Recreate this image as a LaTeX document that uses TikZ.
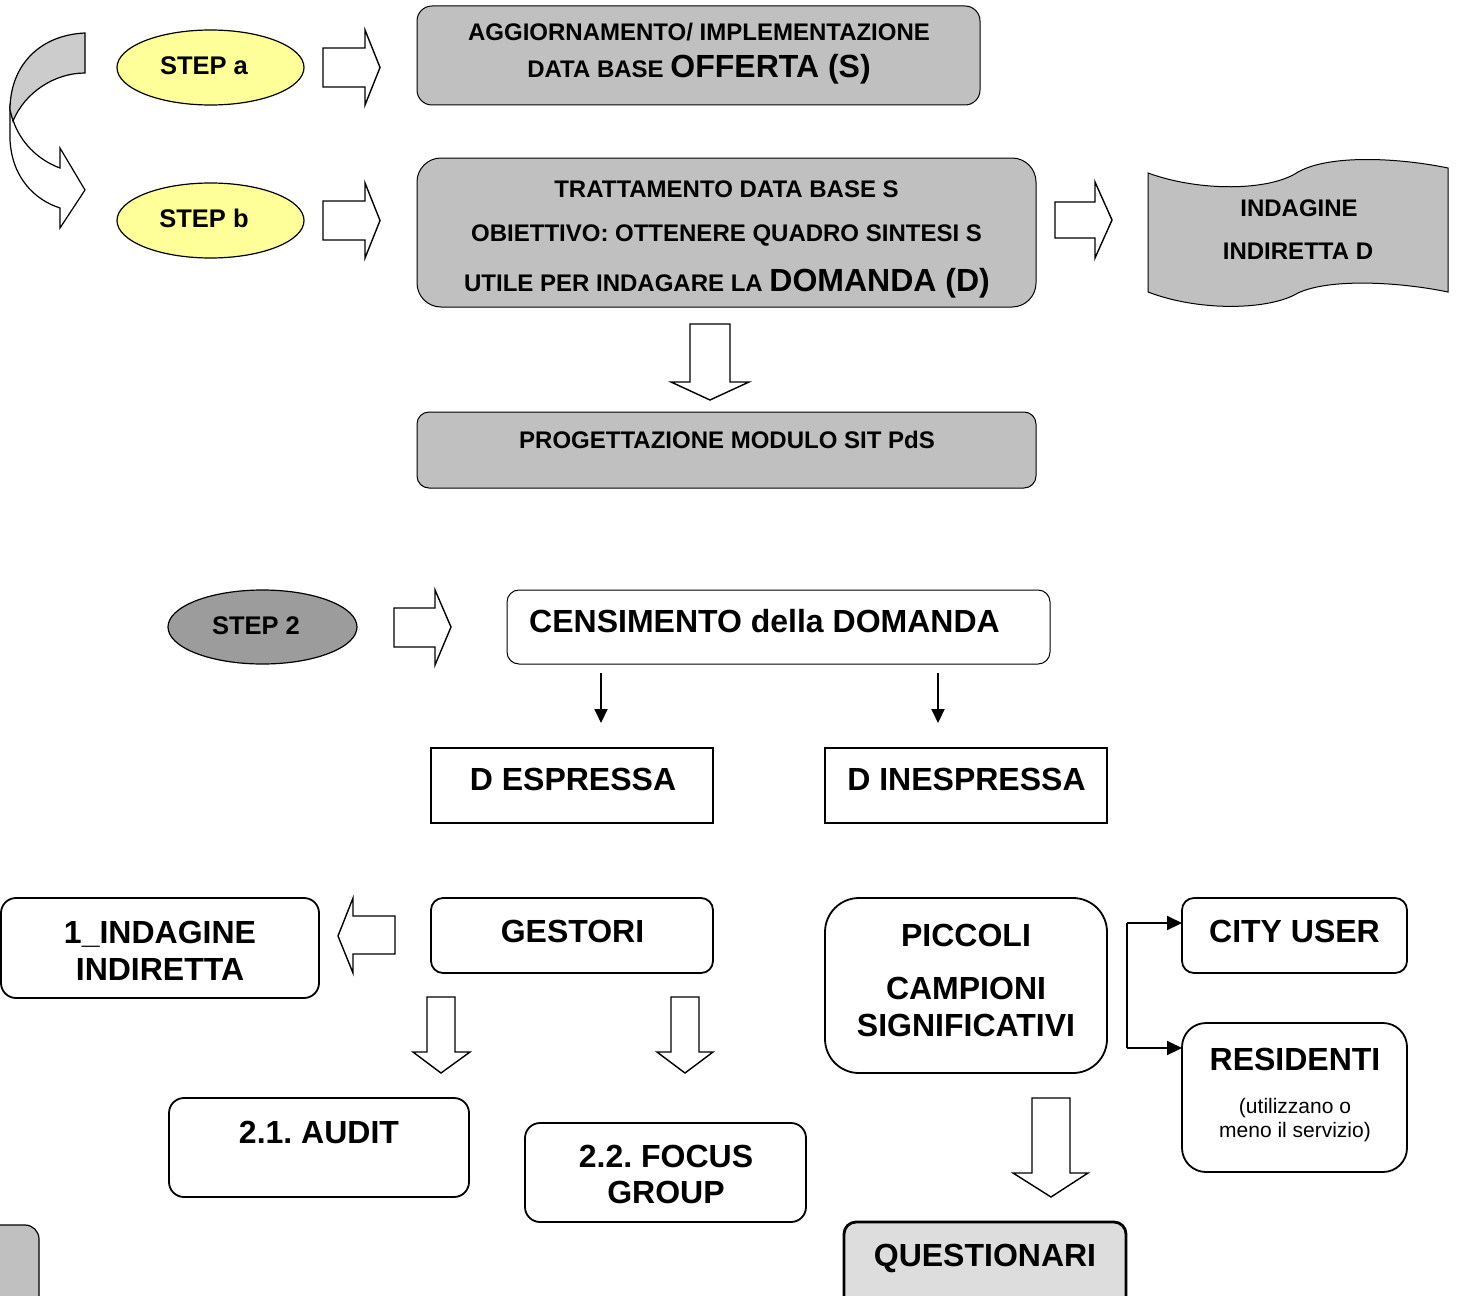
\documentclass[tikz,border=0pt]{standalone}
\usepackage{fontspec}
\setmainfont{Liberation Sans}
\usetikzlibrary{fit,arrows.meta,shapes.geometric}
\definecolor{boxgrey}{HTML}{C0C0C0}
\definecolor{curvegrey}{HTML}{CCCCCC}
\definecolor{stepyellow}{HTML}{FFFF99}
\definecolor{steptwo}{HTML}{9C9C9C}
\definecolor{questgrey}{HTML}{DDDDDD}
\frenchspacing
\begin{document}
\frenchspacing
\begin{tikzpicture}[x=0.5pt,y=-0.5pt,
  greybox/.style={draw, fill=boxgrey, line width=0.5pt, inner sep=0pt, outer sep=0pt},
  whitebox/.style={draw, fill=white, line width=0.9pt, inner sep=0pt, outer sep=0pt},
  sharpbox/.style={draw, fill=white, line width=1.4pt, inner sep=0pt, outer sep=0pt},
  stepell/.style={draw, ellipse, line width=0.6pt, inner sep=0pt, minimum width=93.5pt, minimum height=37.5pt},
  blockarrow/.style={draw, fill=white, line width=0.7pt, line join=miter},
  thinarrow/.style={line width=1pt, -{Triangle[length=7pt,width=6.5pt]}},
  elbowarrow/.style={line width=1pt, -{Triangle[length=7.5pt,width=7pt]}},
  txt/.style={anchor=base, inner sep=0pt, font=\frenchspacing\bfseries\fontsize{12}{14}\selectfont},
  bigtxt/.style={anchor=base, inner sep=0pt, font=\frenchspacing\bfseries\fontsize{16}{18}\selectfont},
  steptxt/.style={anchor=base, inner sep=0pt, font=\bfseries\fontsize{12.75}{15}\selectfont},
  smalltxt/.style={anchor=base, inner sep=0pt, font=\fontsize{10.5}{12}\selectfont}]
\useasboundingbox (0,0) rectangle (1460,1295);

% ---------- curved arrow (top left) ----------
\draw[fill=white, line width=0.6pt, line join=miter]
  (10,108) -- (10,140) .. controls (12,178) and (35,200) .. (60,208)
  -- (60,228) -- (85,190) -- (60,148) -- (60,168)
  .. controls (38,160) and (20,142) .. (13,120) -- cycle;
\draw[fill=curvegrey, line width=0.6pt]
  (85,33) .. controls (40,35) and (10,65) .. (10,110) -- (13,121)
  .. controls (25,92) and (55,73) .. (85,73) -- cycle;

% ---------- STEP ellipses ----------
\node[stepell, fill=stepyellow] (stepa) at (210.5,67.5) {};
\node[steptxt] (stepatxt) at (204,75) {STEP a};
\node[stepell, fill=stepyellow] (stepb) at (210.5,220.5) {};
\node[steptxt] (stepbtxt) at (204,227.5) {STEP b};

% ---------- block arrows (top) ----------
\draw[blockarrow] (323,48) -- (365,48) -- (365,30) -- (380,67.5) -- (365,105) -- (365,87) -- (323,87) -- cycle;
\draw[blockarrow] (323,201) -- (365,201) -- (365,183) -- (380,220.5) -- (365,258) -- (365,240) -- (323,240) -- cycle;
\draw[blockarrow] (1055,202) -- (1095,202) -- (1095,182) -- (1112,220) -- (1095,258) -- (1095,238) -- (1055,238) -- cycle;
\draw[blockarrow] (690,324) -- (730,324) -- (730,382) -- (749,382) -- (710,400) -- (671,382) -- (690,382) -- cycle;

% ---------- top grey boxes ----------
\node[greybox, rounded corners=7.5pt, fit={(417,6) (980,105)}] (offerta) {};
\node[txt] (offl1) at (699,41) {AGGIORNAMENTO/ IMPLEMENTAZIONE};
\node[txt] (offl2) at (699,78) {DATA BASE {\fontsize{16}{18}\selectfont OFFERTA (S)}};

\node[greybox, rounded corners=12pt, fit={(417,158) (1036,307)}] (tratt) {};
\node[txt] (tratl1) at (726.5,197) {TRATTAMENTO DATA BASE S};
\node[txt] (tratl2) at (726.5,241) {OBIETTIVO: OTTENERE QUADRO SINTESI S};
\node[txt] (tratl3) at (727,291.5) {UTILE PER INDAGARE LA {\fontsize{16}{18}\selectfont DOMANDA (D)}};

\node[greybox, rounded corners=6pt, fit={(417,412) (1036,488)}] (prog) {};
\node[txt] (progtxt) at (727,448.6) {PROGETTAZIONE MODULO SIT PdS};

% ---------- wave shape ----------
\draw[fill=boxgrey, line width=0.5pt]
  (1148,173) .. controls (1200,192) and (1270,191) .. (1298,172)
  .. controls (1330,154) and (1400,158) .. (1448,168)
  -- (1448,292)
  .. controls (1400,282) and (1330,278) .. (1298,293)
  .. controls (1270,310) and (1200,312) .. (1148,292) -- cycle;
\node[txt] (indl1) at (1299,216.6) {INDAGINE};
\node[txt] (indl2) at (1298,259.6) {INDIRETTA D};

% ---------- STEP 2 ----------
\node[stepell, fill=steptwo, minimum width=94.5pt, minimum height=37pt] (step2) at (262.5,627) {};
\node[steptxt] (step2txt) at (256,634) {STEP 2};
\draw[blockarrow] (394,608) -- (435,608) -- (435,590) -- (451,627) -- (435,665) -- (435,647) -- (394,647) -- cycle;

\node[draw, fill=white, line width=0.5pt, inner sep=0pt, outer sep=0pt, rounded corners=6pt, fit={(507,590) (1050,664)}] (cens) {};
\node[bigtxt] (censtxt) at (764.5,632.5) {CENSIMENTO della DOMANDA};

\coordinate (c1s) at (601,673);
\coordinate (c1e) at (601,723);
\coordinate (c2s) at (938,673);
\coordinate (c2e) at (938,723);
\draw[thinarrow] (c1s) -- (c1e);
\draw[thinarrow] (c2s) -- (c2e);

\node[sharpbox, fit={(431,748) (713,823)}] (desp) {};
\node[bigtxt] (desptxt) at (573,790.5) {D ESPRESSA};
\node[sharpbox, fit={(825,748) (1107,823)}] (dinesp) {};
\node[bigtxt] (dinesptxt) at (966.5,790.5) {D INESPRESSA};

% ---------- lower left ----------
\node[whitebox, rounded corners=7.5pt, fit={(1,898) (319,998)}] (indir) {};
\node[bigtxt] (indirl1) at (160,943.5) {1\_INDAGINE};
\node[bigtxt] (indirl2) at (160,980.5) {INDIRETTA};
\draw[blockarrow] (395,916) -- (353,916) -- (353,898) -- (338,936) -- (353,973) -- (353,954) -- (395,954) -- cycle;

\node[whitebox, rounded corners=6pt, fit={(431,898) (713,973)}] (gest) {};
\node[bigtxt] (gesttxt) at (572.5,942.5) {GESTORI};
\draw[blockarrow] (427,997) -- (455,997) -- (455,1052) -- (470,1052) -- (441,1073) -- (413,1052) -- (427,1052) -- cycle;
\draw[blockarrow] (671,997) -- (699,997) -- (699,1052) -- (713,1052) -- (685,1073) -- (657,1052) -- (671,1052) -- cycle;

\node[whitebox, rounded corners=7.5pt, fit={(169,1098) (469,1197)}] (audit) {};
\node[bigtxt] (audittxt) at (319,1143.5) {2.1.\ AUDIT};
\node[whitebox, rounded corners=7.5pt, fit={(525,1123) (806,1222)}] (focus) {};
\node[bigtxt] (focusl1) at (666,1167.5) {2.2.\ FOCUS};
\node[bigtxt] (focusl2) at (666,1203.5) {GROUP};

\node[greybox, line width=0.6pt, rounded corners=7pt, fit={(-30,1225) (39,1320)}] (corner) {};

% ---------- lower right ----------
\node[whitebox, rounded corners=17pt, fit={(825,898) (1107,1073)}] (picc) {};
\node[bigtxt] (piccl1) at (966,946.5) {PICCOLI};
\node[bigtxt] (piccl2) at (966,999.5) {CAMPIONI};
\node[bigtxt] (piccl3) at (966,1036.5) {SIGNIFICATIVI};

\node[whitebox, rounded corners=6pt, fit={(1182,898) (1407,973)}] (city) {};
\node[bigtxt] (citytxt) at (1294.5,942.5) {CITY USER};
\node[whitebox, rounded corners=12pt, fit={(1182,1023) (1407,1172)}] (resid) {};
\node[bigtxt] (residtxt) at (1295,1070.5) {RESIDENTI};
\node[smalltxt] (residl2) at (1295,1113) {(utilizzano o};
\node[smalltxt] (residl3) at (1295,1137) {meno il servizio)};

\coordinate (elbtop) at (1127,923);
\coordinate (elbbot) at (1127,1048);
\draw[line width=1pt] (elbtop) -- (elbbot);
\draw[elbowarrow] (elbtop) -- (city.west |- elbtop);
\draw[elbowarrow] (elbbot) -- (resid.west |- elbbot);

\draw[blockarrow] (1032,1098) -- (1070,1098) -- (1070,1173) -- (1088,1173) -- (1051,1197) -- (1013,1173) -- (1032,1173) -- cycle;

\node[draw, fill=questgrey, line width=1.4pt, inner sep=0pt, outer sep=0pt, rounded corners=6pt, fit={(844,1222) (1126,1330)}] (quest) {};
\node[bigtxt] (questtxt) at (985,1266.5) {QUESTIONARI};
\end{tikzpicture}
\end{document}
